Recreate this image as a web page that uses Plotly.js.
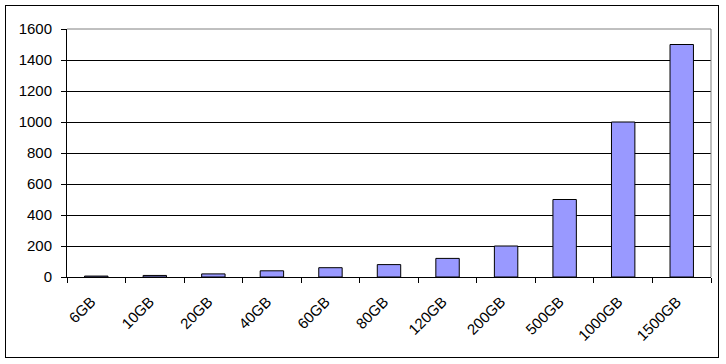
<!DOCTYPE html>
<html><head><meta charset="utf-8">
<script src="https://cdn.plot.ly/plotly-3.0.1.min.js"></script>
<style>
html,body{margin:0;padding:0;background:#fff;}
#wrap{position:relative;width:726px;height:364px;}
#chart{width:726px;height:364px;}
#frame{position:absolute;left:5px;top:5px;width:712px;height:351px;border:1px solid #000;pointer-events:none;}
</style></head>
<body>
<div id="wrap"><div id="chart"></div><div id="frame"></div></div>
<script>
const categories = ["6GB","10GB","20GB","40GB","60GB","80GB","120GB","200GB","500GB","1000GB","1500GB"];
const values = [6,10,20,40,60,80,120,200,500,1000,1500];
const yTicks = [0,200,400,600,800,1000,1200,1400,1600];

const trace = {
  type: 'bar', x: categories, y: values,
  marker: {color: '#9999FF', line: {color: '#000', width: 1}},
  hoverinfo: 'none'
};
const layout = {
  width: 726, height: 364,
  margin: {l: 67, r: 15, t: 29, b: 87},
  paper_bgcolor: 'rgba(0,0,0,0)', plot_bgcolor: '#fff',
  bargap: 0.6, showlegend: false,
  font: {family: 'Liberation Sans, Arial, sans-serif', size: 15, color: '#000'},
  xaxis: {type: 'category', tickangle: -45, tickson: 'boundaries', ticks: 'outside', ticklen: 5,
          tickcolor: '#000', showline: true, linecolor: '#000', linewidth: 1, showgrid: false,
          ticklabelstandoff: 9, ticklabelshift: -5, tickfont: {size: 15}},
  yaxis: {range: [0, 1600], tickvals: yTicks, ticks: 'outside', ticklen: 5, tickcolor: '#000',
          showline: true, linecolor: '#000', linewidth: 1, gridcolor: '#000', gridwidth: 1,
          zeroline: false, ticklabelstandoff: 6, tickfont: {size: 15}},
  shapes: [
    {type: 'line', xref: 'paper', yref: 'paper', x0: 0, x1: 1, y0: 1, y1: 1, line: {color: '#808080', width: 1}},
    {type: 'line', xref: 'paper', yref: 'paper', x0: 1, x1: 1, y0: 0, y1: 1, line: {color: '#808080', width: 1}}
  ]
};
Plotly.newPlot('chart', [trace], layout, {staticPlot: true});
</script>
</body></html>
